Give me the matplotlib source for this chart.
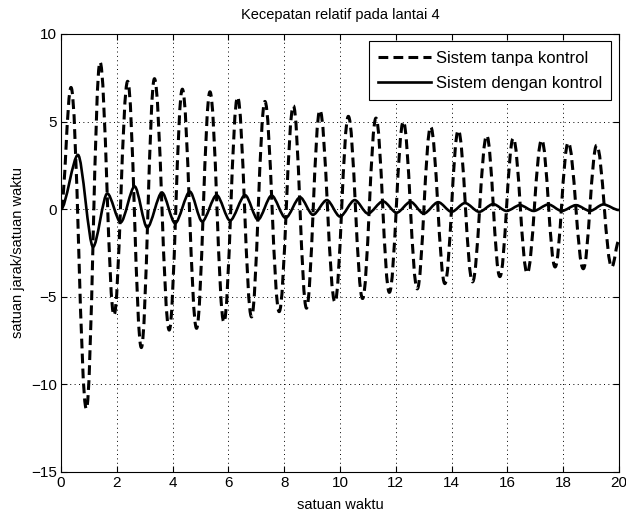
import matplotlib
matplotlib.use("Agg")
import matplotlib.pyplot as plt
from matplotlib.path import Path
from matplotlib.patches import PathPatch
from matplotlib.lines import Line2D

# ---- data (turning points of each curve) ----
t_tanpa = [0.0, 0.36, 0.91, 1.40, 1.90, 2.39, 2.88, 3.35, 3.88, 4.35, 4.86,
           5.34, 5.84, 6.33, 6.83, 7.31, 7.82, 8.33, 8.80, 9.28, 9.82,
           10.30, 10.81, 11.29, 11.77, 12.27, 12.77, 13.25, 13.76, 14.24, 14.75,
           15.26, 15.73, 16.21, 16.71, 17.23, 17.71, 18.18, 18.72, 19.20, 19.74, 20.0]
v_tanpa = [0.0, 6.95, -11.4, 8.4, -6.05, 7.3, -7.9, 7.45, -6.9, 6.85, -6.8,
           6.7, -6.45, 6.4, -6.15, 6.15, -5.85, 5.9, -5.65, 5.65, -5.3,
           5.3, -5.1, 5.2, -4.75, 5.0, -4.55, 4.7, -4.25, 4.5, -4.15,
           4.2, -3.85, 4.05, -3.65, 3.95, -3.3, 3.8, -3.4, 3.65, -3.3, -1.8]

t_dengan = [0.0, 0.61, 1.15, 1.66, 2.14, 2.64, 3.09, 3.62, 4.09, 4.62, 5.06,
            5.58, 6.06, 6.60, 7.06, 7.55, 8.05, 8.57, 9.03, 9.53, 10.0,
            10.53, 11.0, 11.54, 12.03, 12.53, 13.0, 13.52, 14.0, 14.48, 14.99,
            15.49, 15.97, 16.45, 16.94, 17.47, 17.95, 18.46, 18.96, 19.44, 20.0]
v_dengan = [0.0, 3.1, -2.15, 0.9, -0.75, 1.3, -1.05, 0.95, -0.8, 1.0, -0.7,
            0.8, -0.65, 0.8, -0.6, 0.78, -0.5, 0.68, -0.32, 0.52, -0.42,
            0.52, -0.25, 0.45, -0.2, 0.42, -0.25, 0.4, -0.15, 0.35, -0.15,
            0.29, -0.1, 0.23, -0.1, 0.27, -0.1, 0.23, -0.1, 0.27, -0.05]

xticks = [0, 2, 4, 6, 8, 10, 12, 14, 16, 18, 20]
yticks = [-15, -10, -5, 0, 5, 10]
labels = ["Sistem tanpa kontrol", "Sistem dengan kontrol"]
title = "Kecepatan relatif pada lantai 4"
xlabel = "satuan waktu"
ylabel = "satuan jarak/satuan waktu"


def smooth_path(ts, vs, k=0.38):
    """Path through the turning points, drawn by matplotlib as cubic Bezier
    segments with flat tangents at each turning point."""
    verts = [(ts[0], vs[0])]
    codes = [Path.MOVETO]
    for i in range(1, len(ts)):
        t0, v0, t1, v1 = ts[i - 1], vs[i - 1], ts[i], vs[i]
        d = t1 - t0
        verts += [(t0 + k * d, v0), (t1 - k * d, v1), (t1, v1)]
        codes += [Path.CURVE4] * 3
    return Path(verts, codes)


plt.rcParams["font.family"] = ["Liberation Sans", "DejaVu Sans"]

fig = plt.figure(figsize=(6.26, 5.19), dpi=100)
ax = fig.add_axes([0.0974, 0.0906, 0.8914, 0.8439])

dash = (0, (3.2, 1.7))
ax.add_patch(PathPatch(smooth_path(t_tanpa, v_tanpa, 0.38), fill=False,
                       edgecolor="black", lw=2.2, linestyle=dash,
                       joinstyle="round"))
ax.add_patch(PathPatch(smooth_path(t_dengan, v_dengan, 0.3), fill=False,
                       edgecolor="black", lw=1.9, joinstyle="round"))

ax.set_xlim(0, 20)
ax.set_ylim(-15, 10)
ax.set_xticks(xticks)
ax.set_yticks(yticks)
ax.tick_params(direction="in", top=True, right=True, length=4, width=0.8,
               labelsize=11, pad=3)
ax.grid(True, color="black", linestyle=(0, (1, 3.5)), linewidth=0.7)
for s in ax.spines.values():
    s.set_linewidth(0.8)

ax.set_title(title, fontsize=10.5, pad=11)
ax.set_xlabel(xlabel, fontsize=10.5, labelpad=6)
ax.set_ylabel(ylabel, fontsize=10.5, labelpad=4)

handles = [Line2D([], [], color="black", lw=2.2, linestyle=dash),
           Line2D([], [], color="black", lw=1.9)]
leg = ax.legend(handles, labels, loc="upper right", fancybox=False,
                framealpha=1, edgecolor="black", fontsize=12,
                handlelength=3.2, borderaxespad=0.45, labelspacing=0.6,
                handletextpad=0.3, borderpad=0.55)
leg.get_frame().set_linewidth(0.8)

fig.savefig("out.png", dpi=100)
